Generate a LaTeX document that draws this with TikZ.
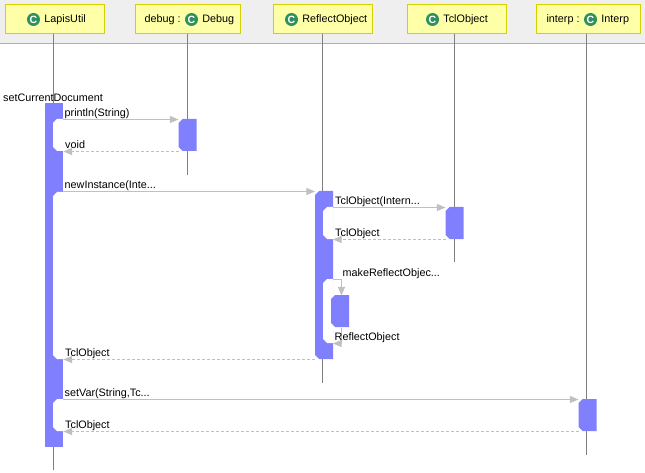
\documentclass[tikz,border=0pt]{standalone}
\usepackage{fontspec}
\setmainfont{Liberation Sans}
\usetikzlibrary{positioning,arrows,shapes.misc}
\definecolor{bandgrey}{HTML}{EFEFEF}
\definecolor{bandline}{HTML}{B0B0B0}
\definecolor{headfill}{HTML}{FFFFA8}
\definecolor{headline}{HTML}{D2D200}
\definecolor{barblue}{HTML}{8080FF}
\definecolor{msggrey}{HTML}{C0C0C0}
\definecolor{lifegrey}{HTML}{808080}
\definecolor{icongreen}{HTML}{2F8F5F}

\begin{document}
\begin{tikzpicture}[
      x=1pt,
      y=-1pt,
      head/.style={
        draw=headline,
        fill=headfill,
        line width=1.2pt,
        anchor=north west,
        minimum height=29pt,
        inner sep=0pt
      },
      classicon/.style={
        circle,
        fill=icongreen,
        text=white,
        minimum size=13pt,
        inner sep=0pt,
        font=\fontsize{10.5}{10.5}\selectfont\bfseries
      },
      headtext/.style={
        inner sep=0pt,
        node distance=4pt,
        font=\fontsize{10.8}{12}\selectfont
      },
      msgtext/.style={
        anchor=base west,
        inner sep=0pt,
        font=\fontsize{10.8}{12}\selectfont
      },
      bar/.style={
        fill=barblue,
        anchor=north west,
        minimum width=18pt,
        inner sep=0pt
      },
      cut/.style={
        chamfered rectangle,
        chamfered rectangle xsep=2pt,
        chamfered rectangle ysep=2pt,
        chamfered rectangle corners={north west,south west},
        anchor=north west,
        xshift=2pt,
        yshift=-2pt,
        outer sep=0pt,
        inner sep=2pt
      },
      act/.style={
        cut,
        fill=barblue,
        minimum width=18pt,
        minimum height=32pt
      },
      notch/.style={
        cut,
        fill=white,
        minimum width=10.5pt
      },
      life/.style={
        lifegrey,
        line width=1pt
      },
      arr/.style={
        ->,
        >=triangle 45,
        msggrey,
        line width=1pt,
        transform canvas={yshift=-0.5pt}
      },
      ret/.style={
        arr,
        dashed,
        dash pattern=on 3pt off 2pt
      }
    ]
    \useasboundingbox (0,0) rectangle (645,473);
    \fill[bandgrey] (0,0) rectangle (645,43);
    \draw[bandline, line width=1pt] (0,43.5) -- (645,43.5);

    \node[head, minimum width=99pt] (lapisutil) at (5,4) {};
    \node[head, minimum width=105pt] (debug) at (135,4) {};
    \node[head, minimum width=99pt] (reflectobject) at (273,4) {};
    \node[head, minimum width=99pt] (tclobject) at (407,4) {};
    \node[head, minimum width=104pt] (interp) at (536,4) {};

    \node[classicon] (lapisutilicon) at (33.5,19.5) {C};
    \node[headtext, right=of lapisutilicon] (lapisutilname) {LapisUtil};
    \node[classicon] (debugicon) at (191.5,19.5) {C};
    \node[headtext, left=of debugicon] (debuginst) {debug :};
    \node[headtext, right=of debugicon] (debugname) {Debug};
    \node[classicon] (reflecticon) at (291.5,19.5) {C};
    \node[headtext, right=of reflecticon] (reflectname) {ReflectObject};
    \node[classicon] (tclicon) at (432.5,19.5) {C};
    \node[headtext, right=of tclicon] (tclname) {TclObject};
    \node[classicon] (interpicon) at (590.5,19.5) {C};
    \node[headtext, left=of interpicon] (interpinst) {interp :};
    \node[headtext, right=of interpicon] (interpname) {Interp};

    \coordinate (lapisutilend) at (53.5,470);
    \coordinate (debugend) at (187.5,175);
    \coordinate (reflectend) at (322.5,383);
    \coordinate (tclend) at (454.5,262);
    \coordinate (interpend) at (586.5,455);
    \draw[life] (lapisutil.south -| lapisutilend) -- (lapisutilend);
    \draw[life] (debug.south -| debugend) -- (debugend);
    \draw[life] (reflectobject.south -| reflectend) -- (reflectend);
    \draw[life] (tclobject.south -| tclend) -- (tclend);
    \draw[life] (interp.south -| interpend) -- (interpend);

    \node[bar, minimum height=344pt] (lapisbar) at (45,103) {};
    \node[notch, minimum height=32pt] (printlnnotch) at (53,119) {};
    \node[notch, minimum height=167pt] (newnotch) at (53,192) {};
    \node[notch, minimum height=32pt] (setvarnotch) at (53,399) {};
    \node[act, minimum height=168pt] (reflectbar) at (315,191) {};
    \node[notch, minimum height=32pt] (tclnotch) at (323,207) {};
    \node[notch, minimum height=64pt] (selfnotch) at (323,279) {};
    \node[act] (debugact) at (178.5,119) {};
    \node[act] (tclact) at (445.5,207) {};
    \node[act] (selfact) at (331,295) {};
    \node[act] (interpact) at (578.5,399) {};

    \draw[arr] (lapisbar.east |- debugact.north) -- (debugact.west |- debugact.north);
    \draw[ret] (debugact.west |- debugact.south) -- (lapisbar.east |- debugact.south);
    \draw[arr] (lapisbar.east |- reflectbar.north) -- (reflectbar.west |- reflectbar.north);
    \draw[arr] (reflectbar.east |- tclact.north) -- (tclact.west |- tclact.north);
    \draw[ret] (tclact.west |- tclact.south) -- (reflectbar.east |- tclact.south);
    \coordinate (selftop) at (341.5,279);
    \coordinate (selfbottom) at (341.5,343);
    \draw[arr] (reflectbar.east |- selftop) -- (selftop) -- (selfact.north -| selftop);
    \draw[arr] (selfact.south -| selfbottom) -- (selfbottom) -- (reflectbar.east |- selfbottom);
    \draw[ret] (reflectbar.west |- reflectbar.south) -- (lapisbar.east |- reflectbar.south);
    \draw[arr] (lapisbar.east |- interpact.north) -- (interpact.west |- interpact.north);
    \draw[ret] (interpact.west |- interpact.south) -- (lapisbar.east |- interpact.south);

    \node[msgtext] (setcurrent) at (3,101.7) {setCurrentDocument};
    \node[msgtext] (printlnlabel) at (64.5,116.7) {println(String)};
    \node[msgtext] (voidlabel) at (65,148.7) {void};
    \node[msgtext] (newinstance) at (64.5,188.7) {newInstance(Inte...};
    \node[msgtext] (tclcall) at (335,204.7) {TclObject(Intern...};
    \node[msgtext] (tclreturn) at (335,236.7) {TclObject};
    \node[msgtext] (makereflect) at (342.5,276.7) {makeReflectObjec...};
    \node[msgtext] (reflectreturn) at (334.5,340.7) {ReflectObject};
    \node[msgtext] (newreturn) at (65,356.7) {TclObject};
    \node[msgtext] (setvar) at (64.5,396.7) {setVar(String,Tc...};
    \node[msgtext] (setvarreturn) at (65,428.7) {TclObject};
  \end{tikzpicture}
\end{document}
